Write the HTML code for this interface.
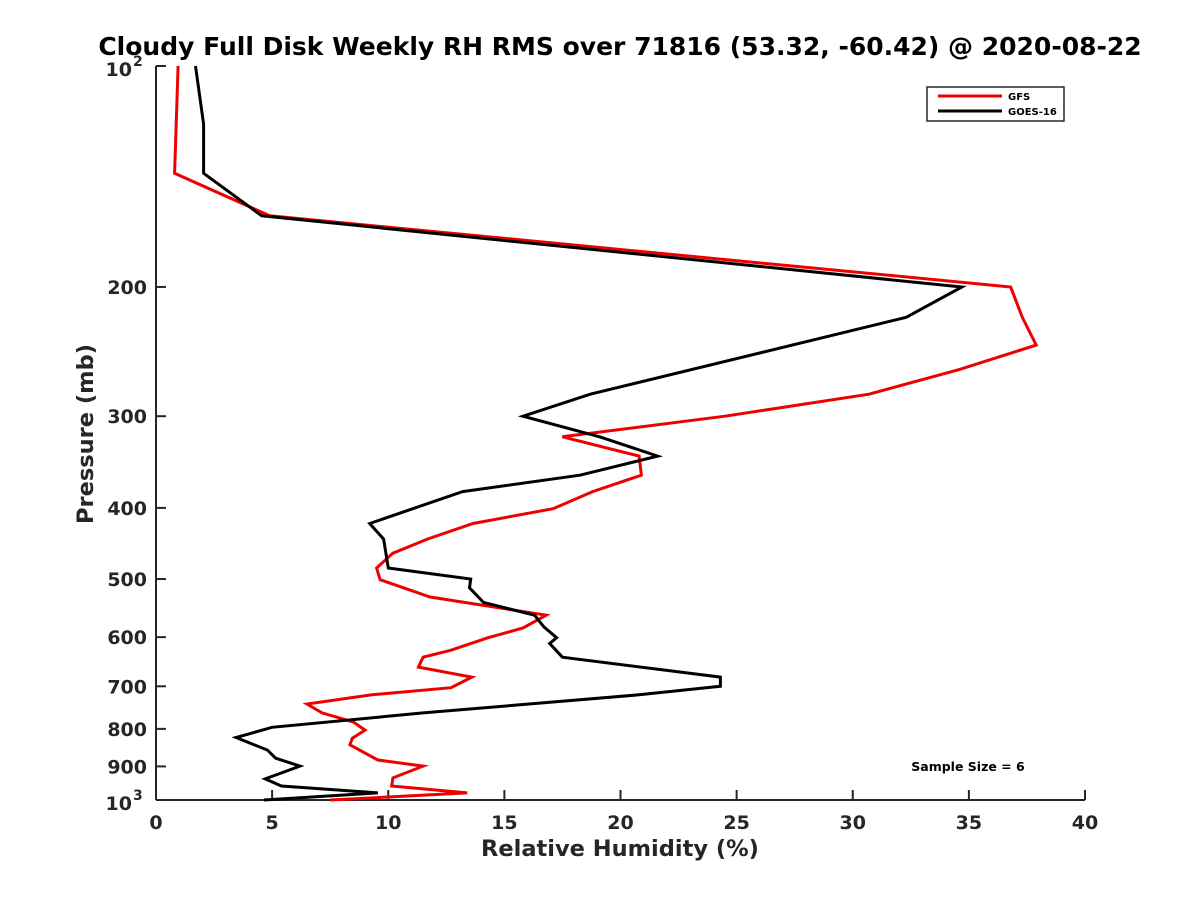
<!DOCTYPE html>
<html><head><meta charset="utf-8"><style>
body{margin:0;background:#fff}
svg{display:block;font-family:"DejaVu Sans","Liberation Sans",sans-serif}
</style></head><body>
<svg id="c" width="1200" height="900">
<rect width="1200" height="900" fill="#fff"/>
<text x="620" y="55" text-anchor="middle" font-size="25" font-weight="bold" fill="#000">Cloudy Full Disk Weekly RH RMS over 71816 (53.32, -60.42) @ 2020-08-22</text>
<g id="axes"></g>
<g id="series"></g>
<text x="620" y="856" text-anchor="middle" font-size="22.5" font-weight="bold" fill="#262626">Relative Humidity (%)</text>
<text transform="translate(93,434) rotate(-90)" text-anchor="middle" font-size="22.5" font-weight="bold" fill="#262626">Pressure (mb)</text>
<g>
<rect x="927" y="87" width="137" height="34" fill="#fff" stroke="#262626" stroke-width="1.5"/>
<line x1="938" y1="96" x2="1002" y2="96" stroke="#e00" stroke-width="3"/>
<text x="1008" y="100" font-size="10" font-weight="bold">GFS</text>
<line x1="938" y1="111" x2="1002" y2="111" stroke="#000" stroke-width="3"/>
<text x="1008" y="115" font-size="10" font-weight="bold">GOES-16</text>
</g>
<text x="968" y="771" text-anchor="middle" font-size="12.5" font-weight="bold">Sample Size = 6</text>
</svg>
<script>
const xTicks=[0,5,10,15,20,25,30,35,40];
const yTicks=[200,300,400,500,600,700,800,900];
const gfsP=[100,140,160,200,220,240,259,280,300,320,340,361,380,401,420,441,461,483,501,529,560,583,601,625,639,659,680,703,719,740,761,783,803,824,841,882,899,933,957,978,1000];
const gfsV=[0.95,0.8,4.9,36.8,37.3,37.9,34.6,30.7,24.5,17.5,20.8,20.9,18.8,17.1,13.65,11.7,10.2,9.5,9.65,11.8,16.8,15.8,14.3,12.7,11.5,11.3,13.6,12.7,9.3,6.5,7.15,8.5,9.0,8.45,8.35,9.55,11.5,10.2,10.15,13.4,7.5];
const goesP=[100,120,140,160,200,220,280,300,320,340,361,380,420,441,483,500,514,538,560,581,601,612,639,680,700,719,761,796,822,855,877,899,936,957,978,1000];
const goesV=[1.7,2.05,2.05,4.55,34.7,32.3,18.7,15.8,19.1,21.6,18.25,13.2,9.2,9.8,10.0,13.55,13.5,14.1,16.3,16.7,17.25,16.95,17.5,24.3,24.3,20.8,11.5,5.0,3.45,4.8,5.15,6.2,4.7,5.4,9.55,4.65];
const X0=156,X1=1085,Y0=66,Y1=800;
const sx=v=>X0+(v/40)*(X1-X0);
const sy=p=>Y0+(Y1-Y0)*Math.log10(p/100);
const NS="http://www.w3.org/2000/svg";
function mk(t,a,parent){const e=document.createElementNS(NS,t);for(const k in a)e.setAttribute(k,a[k]);parent.appendChild(e);return e;}
const ax=document.getElementById('axes');
let l=mk('line',{x1:X0,y1:Y0,x2:X0,y2:Y1,stroke:'#262626','stroke-width':2},ax);


l=mk('line',{x1:X0,y1:Y1,x2:X1,y2:Y1,stroke:'#262626','stroke-width':2},ax);


xTicks.forEach(v=>{const x=sx(v);
 mk('line',{x1:x,y1:Y1,x2:x,y2:Y1-10,stroke:'#262626','stroke-width':2},ax);
 const t=mk('text',{x:x,y:829,'text-anchor':'middle','font-size':19,'font-weight':'bold',fill:'#262626'},ax);t.textContent=v;
 
 });
[100,1000].concat(yTicks).forEach(p=>{const y=sy(p);
 mk('line',{x1:X0,y1:y,x2:X0+10,y2:y,stroke:'#262626','stroke-width':2},ax);});
yTicks.forEach(p=>{const y=sy(p);
 const t=mk('text',{x:147,y:y+7,'text-anchor':'end','font-size':19,'font-weight':'bold',fill:'#262626'},ax);t.textContent=p;
 
 });
[[100,'2'],[1000,'3']].forEach(([p,e])=>{const y=sy(p);
 const t=mk('text',{x:132,y:y+10,'text-anchor':'end','font-size':19,'font-weight':'bold',fill:'#262626'},ax);t.textContent='10';
 
 
 const s=mk('text',{x:133,y:y,'font-size':14,'font-weight':'bold',fill:'#262626'},ax);s.textContent=e;
 
 });
const sg=document.getElementById('series');
function line(P,V,c,n){const pts=P.map((p,i)=>sx(V[i]).toFixed(1)+','+sy(p).toFixed(1)).join(' ');
 const e=mk('polyline',{points:pts,fill:'none',stroke:c,'stroke-width':3,'stroke-linejoin':'miter'},sg);
 
 }
line(gfsP,gfsV,'#e00','gfs-line');
line(goesP,goesV,'#000','goes16-line');
</script>
</body></html>
